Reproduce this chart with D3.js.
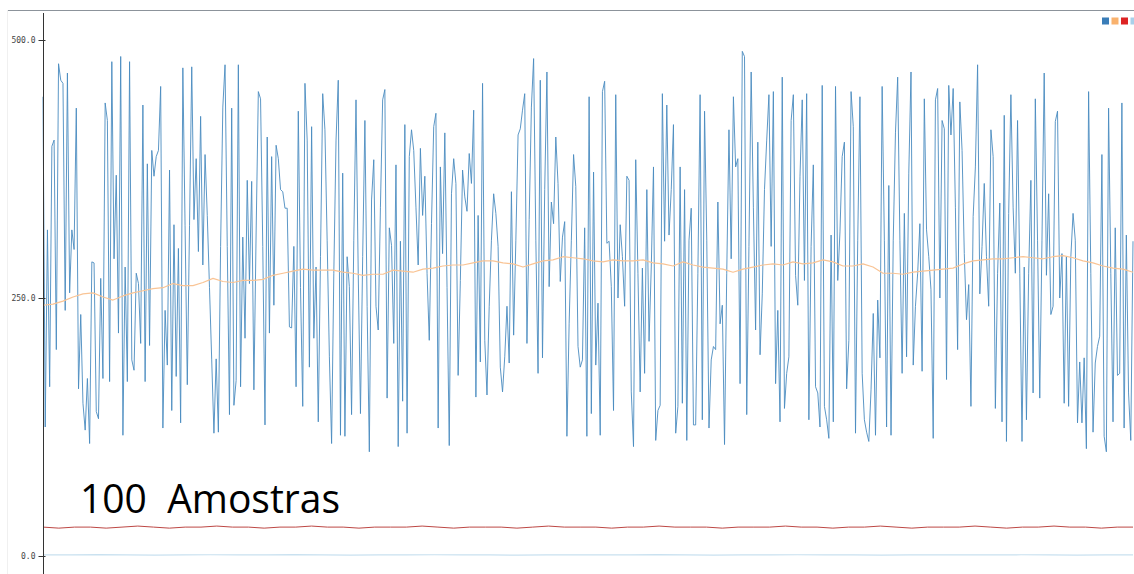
<!DOCTYPE html>
<html>
<head>
<meta charset="utf-8">
<script src="https://cdn.jsdelivr.net/npm/d3@7"></script>
<style>
  html, body { margin: 0; padding: 0; background: #fff; }
  svg { display: block; }
</style>
</head>
<body>
<svg id="chart" width="1134" height="574"></svg>
<script>
// ---- data ----
const yTicks = [0, 250, 500];
const tickLabels = ["0.0", "250.0", "500.0"];
const legendColors = ["#3a7db8", "#f9b26e", "#dd2323", "#a9d0ea"];
const annotation = "100  Amostras";

const samples = [
445,125,316,164,397,403,200,477,461,458,238,468,255,316,297,434,162,234,148,122,172,109,285,284,140,133,269,172,439,422,169,479,288,369,216,484,117,280,169,479,190,180,274,264,206,437,169,380,204,393,368,387,393,455,124,238,185,374,
141,321,174,298,129,473,320,166,320,474,326,385,295,426,282,389,330,260,190,119,191,120,300,435,476,300,137,434,146,170,476,164,309,211,364,264,363,161,313,450,443,300,127,406,216,387,243,398,385,355,353,337,337,222,221,300,164,431,260,145,458,
403,183,416,211,280,130,290,448,413,306,193,109,274,403,461,117,371,116,290,261,137,306,442,274,138,290,422,242,101,345,384,242,219,338,442,452,153,318,301,206,379,106,305,150,418,119,387,413,393,338,282,395,330,368,274,209,322,416,429,124,377,
293,410,260,107,351,385,361,175,267,374,348,334,390,361,432,154,330,188,458,209,156,242,306,351,332,300,183,159,193,242,187,353,214,306,408,414,432,448,206,326,435,482,306,177,461,192,355,469,261,343,322,406,361,266,309,324,116,225,306,389,358,203,183,
190,318,116,445,138,372,185,245,117,450,460,303,305,261,141,447,250,321,290,242,368,364,159,106,384,274,159,279,177,355,208,280,377,112,141,146,448,305,437,311,355,418,119,145,377,148,355,112,306,337,127,127,274,447,132,431,306,124,
190,203,200,343,225,243,108,274,413,288,445,377,385,167,489,484,137,300,469,338,219,401,195,254,355,403,447,300,450,167,238,130,464,143,177,193,422,447,272,243,368,442,267,448,132,300,379,164,158,125,456,145,132,114,311,130,455,267,314,387,401,
162,209,450,416,119,306,445,177,132,120,111,161,235,117,248,192,455,306,125,359,117,306,410,464,306,177,332,193,371,469,185,242,274,322,179,443,316,290,258,114,442,453,250,422,414,171,456,408,453,338,200,440,393,293,229,263,145,329,377,476,254,300,361,290,
242,413,387,143,274,342,130,427,111,332,447,338,274,422,274,111,280,132,274,364,158,443,306,153,306,468,272,351,234,242,421,431,250,293,148,290,145,290,332,306,129,188,129,192,104,450,274,120,187,203,213,389,116,101,434,274,130,318,175,177,439,124,311,158,112,305
];

const average = [
243,244,247,251,254,255,251,248,252,255,257,259,260,264,262,262,265,269,266,265,
267,267,268,272,274,276,278,277,277,277,275,274,272,273,273,277,276,275,278,279,
281,282,282,284,286,286,284,283,280,283,286,287,290,289,288,286,285,287,286,286,
287,284,283,281,285,282,280,279,278,275,278,280,282,283,282,285,283,284,287,285,
281,281,283,280,274,274,273,275,276,277,278,279,283,286,287,288,288,289,290,289,
288,290,291,289,286,284,281,279,278,275
];

const lowSeries = [
28,27,28,28,27,28,29,28,27,28,28,29,28,28,27,28,28,29,28,28,
27,28,28,28,29,28,27,28,28,28,27,28,29,28,28,28,27,28,28,29,
28,28,28,27,28,28,28,29,28,28,27,28,28,29,28,27,28,28,28,29,
28,27,28,28,29,28,28,27,28,28
];

const baseSeries = [
1,1,1.4,1,0.8,1,1.2,1,1,1.3,1,0.9,1,1,1.2,1,1,0.8,1,1.1,
1,1,1.3,1,0.9,1,1,1.2,1,1,0.9,1,1.1,1,1,1.2,1,0.9,1,1
];

// ---- drawing ----
const svg = d3.select("#chart");
const W = 1134, H = 574;
const left = 43, right = 1133;

const y = d3.scaleLinear().domain([0, 500]).range([556, 40]);

// frame
svg.append("line").attr("x1", 7).attr("x2", W).attr("y1", 10.5).attr("y2", 10.5)
  .attr("stroke", "#8c939b").attr("stroke-width", 1);
svg.append("line").attr("x1", 7.5).attr("x2", 7.5).attr("y1", 10).attr("y2", H)
  .attr("stroke", "#f0f0f0").attr("stroke-width", 1);

function drawLine(data, color, width) {
  const x = d3.scaleLinear().domain([0, data.length - 1]).range([left, right]);
  const gen = d3.line().x((d, i) => x(i)).y(d => y(d));
  svg.append("path").datum(data)
    .attr("fill", "none")
    .attr("stroke", color)
    .attr("stroke-width", width)
    .attr("stroke-linejoin", "round")
    .attr("d", gen);
}

drawLine(baseSeries, "#c9e1f0", 1.2);
drawLine(lowSeries, "#bd4744", 1);
drawLine(samples, "#4a8bc0", 0.9);
drawLine(average, "#f9c495", 1.2);

// axis
const axis = d3.axisLeft(y).tickValues(yTicks)
  .tickFormat((d, i) => tickLabels[i]).tickSize(5).tickPadding(3);
const gAxis = svg.append("g").attr("transform", `translate(${left + 0.5},0)`).call(axis);
gAxis.select(".domain").remove();
gAxis.selectAll(".tick line").attr("stroke", "#333").attr("x2", -5).attr("x1", 2);
gAxis.selectAll(".tick text")
  .attr("font-family", "DejaVu Sans Mono, monospace")
  .attr("font-size", 8).attr("fill", "#444");
svg.append("line").attr("x1", left + 0.5).attr("x2", left + 0.5).attr("y1", 13).attr("y2", H)
  .attr("stroke", "#333").attr("stroke-width", 1);

// legend squares
const lx = d3.scaleBand().domain(d3.range(legendColors.length)).range([1102, 1137.5]).paddingInner(0.26);
svg.append("g").selectAll("rect").data(legendColors).join("rect")
  .attr("x", (d, i) => lx(i)).attr("y", 17.5)
  .attr("width", 7).attr("height", 7)
  .attr("fill", d => d);

// annotation
svg.append("text").attr("x", 80).attr("y", 513)
  .attr("font-family", "Open Sans, sans-serif")
  .attr("font-size", 41)
  .attr("fill", "#000")
  .attr("textLength", 260)
  .attr("lengthAdjust", "spacingAndGlyphs")
  .attr("xml:space", "preserve")
  .style("white-space", "pre")
  .text(annotation);
</script>
</body>
</html>
